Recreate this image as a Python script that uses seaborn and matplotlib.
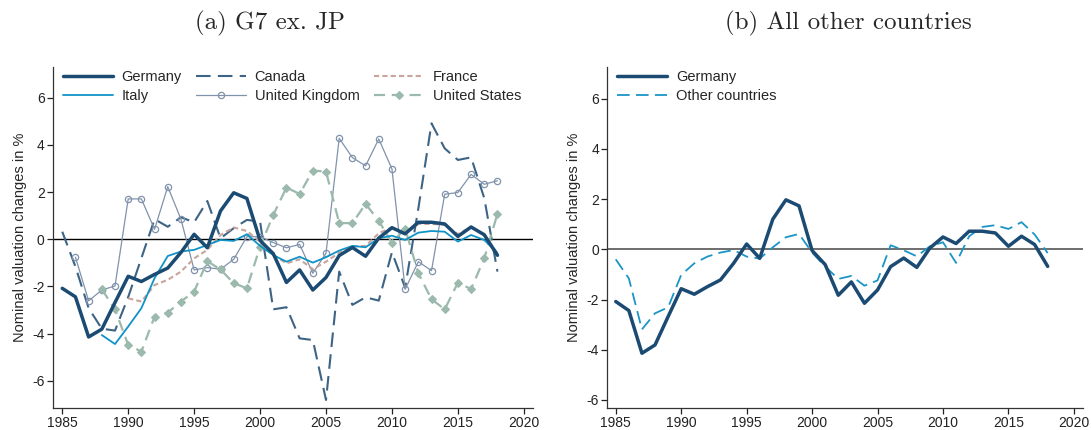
import numpy as np
import pandas as pd
import matplotlib
matplotlib.use("Agg")
import matplotlib.pyplot as plt
import seaborn as sns

years = list(range(1985, 2019))

germany = [-2.08, -2.44, -4.14, -3.81, -2.68, -1.57, -1.79, -1.49, -1.22, -0.56,
           0.21, -0.36, 1.20, 1.97, 1.73, -0.05, -0.61, -1.83, -1.30, -2.15,
           -1.62, -0.69, -0.35, -0.72, 0.05, 0.49, 0.23, 0.72, 0.72, 0.65,
           0.12, 0.52, 0.19, -0.68]
canada = [0.32, -1.16, -2.92, -3.79, -3.87, -2.45, -0.80, 0.85, 0.53, 0.93,
          0.72, 1.62, 0.04, 0.47, 0.82, 0.75, -2.97, -2.88, -4.20, -4.27,
          -6.81, -1.37, -2.78, -2.46, -2.60, -0.55, -2.05, 1.30, 4.91, 3.85,
          3.36, 3.47, 1.74, -1.37]
italy_start = 1988
italy = [-4.06, -4.44, -3.70, -2.92, -1.65, -0.71, -0.52, -0.45, -0.24,
         -0.03, -0.07, 0.21, -0.28, -0.67, -0.95, -0.74, -0.99, -0.76, -0.48,
         -0.28, -0.34, 0.04, 0.15, -0.03, 0.28, 0.35, 0.32, -0.10, 0.18,
         -0.03, -0.59]
france_start = 1990
france = [-2.50, -2.64, -1.94, -1.72, -1.37, -0.81, -0.45, 0.18, 0.50, 0.35,
          -0.10, -0.67, -1.02, -0.85, -1.27, -0.95, -0.57, -0.31, -0.28, 0.25,
          0.51, 0.22, 0.65, 0.65, 0.61, 0.22, 0.51, 0.18, -0.59]
uk_start = 1986
uk = [-0.76, -2.61, -2.15, -1.98, 1.71, 1.71, 0.42, 2.23, 0.85, -1.30,
      -1.20, -1.27, -0.85, 0.11, 0.11, -0.14, -0.36, -0.22, -1.44, -0.59,
      4.28, 3.46, 3.11, 4.25, 2.98, -2.12, -0.95, -1.33, 1.91, 1.98,
      2.75, 2.33, 2.48]
us_start = 1988
us = [-2.12, -2.97, -4.48, -4.76, -3.28, -3.11, -2.64, -2.22, -0.93, -1.28,
      -1.86, -2.08, -0.31, 1.03, 2.19, 1.92, 2.91, 2.87, 0.69, 0.68,
      1.50, 0.78, -0.15, 0.45, -1.44, -2.54, -2.97, -1.84, -2.11, -0.81,
      1.08]
other = [-0.40, -1.16, -3.19, -2.55, -2.31, -1.02, -0.56, -0.29, -0.13, -0.03,
         -0.29, -0.37, 0.08, 0.48, 0.61, -0.13, -0.69, -1.18, -1.06, -1.45,
         -1.24, 0.16, -0.04, -0.28, 0.12, 0.28, -0.54, 0.52, 0.89, 0.96,
         0.81, 1.08, 0.59, -0.15]

c_ger = "#1b4a72"
c_can = "#3d6485"
c_ita = "#0f93c6"
c_fra = "#c9a49c"
c_uk = "#8093ab"
c_us = "#9bb9ac"
c_oth = "#1a95c6"

sns.set_style("ticks")
plt.rcParams["font.family"] = ["Liberation Sans", "DejaVu Sans"]
plt.rcParams["axes.unicode_minus"] = False

fig = plt.figure(figsize=(10.91, 4.30), dpi=100)
ax1 = fig.add_axes([0.0486, 0.0512, 0.44, 0.793])
ax2 = fig.add_axes([0.5566, 0.0512, 0.4361, 0.793])


def yrs(start, vals):
    return years[years.index(start):years.index(start) + len(vals)]


# left panel
sns.lineplot(x=years, y=canada, ax=ax1, color=c_can, lw=1.5,
             linestyle=(0, (7, 3.5)), label="Canada")
sns.lineplot(x=yrs(uk_start, uk), y=uk, ax=ax1, color=c_uk, lw=0.9,
             marker="o", markersize=4.5, markerfacecolor="none",
             markeredgecolor=c_uk, markeredgewidth=0.9, label="United Kingdom")
sns.lineplot(x=yrs(us_start, us), y=us, ax=ax1, color=c_us, lw=1.6,
             linestyle=(0, (5, 3)), marker="D", markersize=4.5,
             markerfacecolor=c_us, markeredgecolor=c_us, label="United States")
sns.lineplot(x=yrs(france_start, france), y=france, ax=ax1, color=c_fra, lw=1.5,
             linestyle=(0, (2.5, 1.5)), label="France")
sns.lineplot(x=yrs(italy_start, italy), y=italy, ax=ax1, color=c_ita, lw=1.3,
             label="Italy")
sns.lineplot(x=years, y=germany, ax=ax1, color=c_ger, lw=2.5, label="Germany")
ax1.axhline(0, color="black", lw=1, zorder=1)

h, l = ax1.get_legend_handles_labels()
hd = dict(zip(l, h))
order = ["Germany", "Italy", "Canada", "United Kingdom", "France", "United States"]
ax1.legend([hd[k] for k in order], order, ncol=3, frameon=False,
           loc="upper left", bbox_to_anchor=(0.0, 1.02), fontsize=10.5,
           handlelength=3.4, columnspacing=1.0, labelspacing=0.3,
           handletextpad=0.6, borderaxespad=0.3)

ax1.set_xlim(1984.3, 2020.7)
ax1.set_ylim(-7.15, 7.3)
ax1.set_yticks(np.arange(-6, 7, 2))

# right panel
sns.lineplot(x=years, y=other, ax=ax2, color=c_oth, lw=1.3,
             linestyle=(0, (7, 3.5)), label="Other countries")
sns.lineplot(x=years, y=germany, ax=ax2, color=c_ger, lw=2.5, label="Germany")
ax2.axhline(0, color="#555555", lw=1.2, zorder=1)
h, l = ax2.get_legend_handles_labels()
hd = dict(zip(l, h))
order = ["Germany", "Other countries"]
ax2.legend([hd[k] for k in order], order, frameon=False, loc="upper left",
           bbox_to_anchor=(0.0, 1.02), fontsize=10.5, handlelength=3.4,
           labelspacing=0.3, handletextpad=0.6, borderaxespad=0.3)
ax2.set_xlim(1984.35, 2020.7)
ax2.set_ylim(-6.32, 7.26)
ax2.set_yticks(np.arange(-6, 7, 2))

for ax in (ax1, ax2):
    ax.set_xticks(np.arange(1985, 2021, 5))
    ax.tick_params(labelsize=10, length=4, width=0.9, pad=2, colors="#222222")
    ax.set_ylabel("Nominal valuation changes in %", fontsize=10.5, labelpad=4)
    ax.set_xlabel("")
    sns.despine(ax=ax)
    for s in ("left", "bottom"):
        ax.spines[s].set_linewidth(0.9)
        ax.spines[s].set_color("#333333")

fig.text(0.247, 0.945, "(a) G7 ex. JP", ha="center", va="center",
         fontsize=18, family="cmr10")
fig.text(0.778, 0.945, "(b) All other countries", ha="center", va="center",
         fontsize=18, family="cmr10")

fig.savefig("out.png", dpi=100)
